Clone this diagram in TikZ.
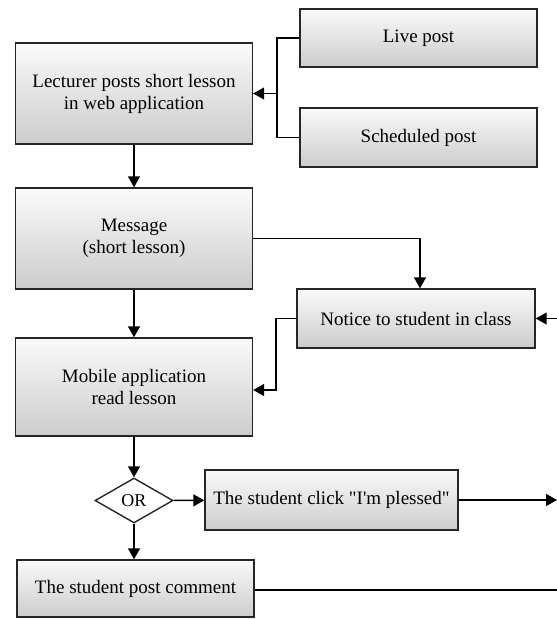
\documentclass[tikz,border=0pt]{standalone}
\usepackage{fontspec}
\setmainfont{Liberation Serif}[Ligatures=TeXOff]
\usetikzlibrary{shapes.geometric,arrows.meta}
\begin{document}
\begin{tikzpicture}[x=1pt,y=-1pt,
  box/.style={draw=black!85, line width=1.4pt, top color=gray!4, bottom color=gray!40,
    align=center, font=\fontsize{19}{22}\selectfont, inner sep=0pt},
  arr/.style={-{Triangle[length=11pt,width=12pt]}, line width=1.4pt},
  ln/.style={line width=1.4pt}]
\useasboundingbox (0,0) rectangle (557,619);
\node[box, minimum width=237pt, minimum height=101pt] (lect) at (134,93.5) {Lecturer posts short lesson\\in web application};
\node[box, minimum width=237pt, minimum height=58pt] (live) at (418.5,38) {Live post};
\node[box, minimum width=237pt, minimum height=59pt] (sched) at (418.5,137.5) {Scheduled post};
\node[box, minimum width=237pt, minimum height=101pt] (msg) at (134,238.5) {Message\\(short lesson)};
\node[box, minimum width=238pt, minimum height=59pt] (notice) at (416,318.5) {Notice to student in class};
\node[box, minimum width=237pt, minimum height=98pt] (mob) at (134,387) {Mobile application\\read lesson};
\node[diamond, draw=black!85, line width=1.4pt, fill=white, minimum width=78pt, minimum height=45pt, inner sep=0pt, font=\fontsize{18}{20}\selectfont] (or) at (134,500.5) {OR};
\node[box, minimum width=253pt, minimum height=60pt] (click) at (331.5,500) {The student click "I'm plessed"};
\node[box, minimum width=237pt, minimum height=57pt] (post) at (135.5,588.5) {The student post comment};
\coordinate (brk) at (277,93.5);
\coordinate (nbend) at (276,350);
\coordinate (rin) at (557,318.5);
\coordinate (rout1) at (557,500);
\coordinate (rout2) at (557,590);
\draw[arr] (lect) -- (msg);
\draw[ln] (live.west) -| (brk) |- (sched.west);
\draw[arr] (brk) -- (lect.east);
\draw[arr] (msg.east) -| ([xshift=4pt]notice.north);
\draw[arr] (msg) -- (mob);
\draw[arr] (notice.west) -| (nbend) |- ([yshift=-3pt]mob.east);
\draw[arr] (rin) -- (notice.east);
\draw[arr] (mob.south) -- (or.north);
\draw[arr] (or) -- (click);
\draw[arr] (click) -- (rout1);
\draw[arr] (or.south) -- (or.south |- post.north);
\draw[ln] (post.east |- rout2) -- (rout2);
\end{tikzpicture}
\end{document}
